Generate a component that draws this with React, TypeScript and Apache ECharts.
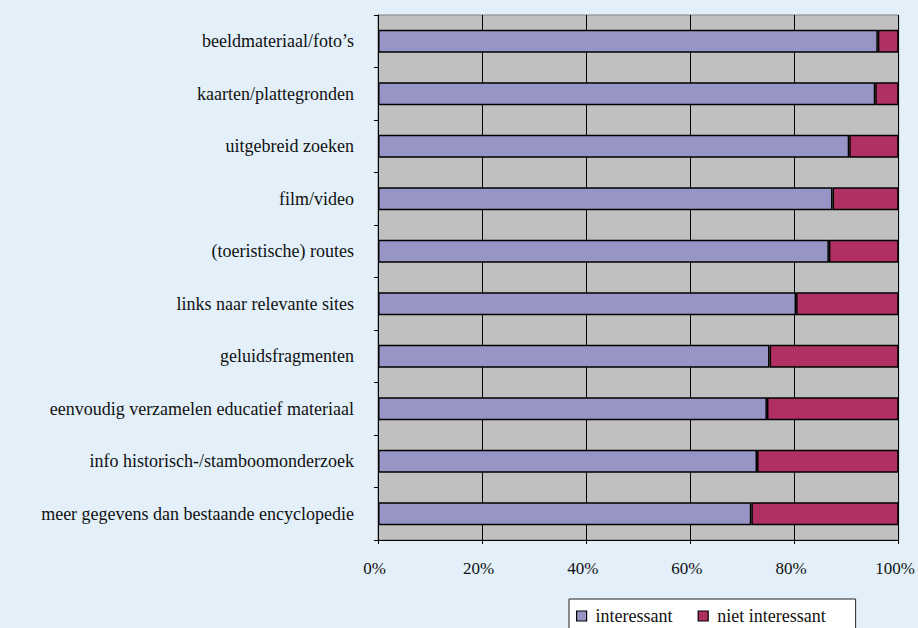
import React, { useEffect, useRef } from "react";
import * as echarts from "echarts";

const categories = [
  "beeldmateriaal/foto’s",
  "kaarten/plattegronden",
  "uitgebreid zoeken",
  "film/video",
  "(toeristische) routes",
  "links naar relevante sites",
  "geluidsfragmenten",
  "eenvoudig verzamelen educatief materiaal",
  "info historisch-/stamboomonderzoek",
  "meer gegevens dan bestaande encyclopedie",
];
const interessant = [96.0, 95.5, 90.5, 87.3, 86.6, 80.3, 75.2, 74.7, 72.8, 71.7];
const nietInteressant = [4.0, 4.5, 9.5, 12.7, 13.4, 19.7, 24.8, 25.3, 27.2, 28.3];
const seriesNames = ["interessant", "niet interessant"];

const FONT = "Liberation Serif";

export default function App() {
  const ref = useRef<HTMLDivElement>(null);
  useEffect(() => {
    if (!ref.current) return;
    const chart = echarts.init(ref.current, undefined, { renderer: "svg" });
    chart.setOption({
      animation: false,
      backgroundColor: "#e3f0f9",
      textStyle: { fontFamily: FONT },
      grid: {
        left: 378,
        right: 17,
        top: 15,
        bottom: 88,
        show: true,
        backgroundColor: "#c0c0c0",
        borderColor: "#808080",
        borderWidth: 1,
      },
      legend: {
        left: 569,
        top: 599,
        icon: "rect",
        itemWidth: 10,
        itemHeight: 10,
        itemGap: 25,
        backgroundColor: "#ffffff",
        borderColor: "#222",
        borderWidth: 1,
        borderRadius: 0,
        padding: [8, 30, 14, 7],
        itemStyle: { borderColor: "#000", borderWidth: 1.2 },
        textStyle: { fontFamily: FONT, fontSize: 18, color: "#111", padding: [0, 0, 0, 4] },
        data: seriesNames,
      },
      xAxis: {
        type: "value",
        min: 0,
        max: 100,
        interval: 20,
        axisLine: { show: true, lineStyle: { color: "#000", width: 1 } },
        axisTick: { show: true, length: 4, lineStyle: { color: "#000" } },
        axisLabel: {
          formatter: "{value}%",
          fontFamily: FONT,
          fontSize: 17,
          color: "#111",
          margin: 20,
          padding: [0, 7, 0, 0],
        },
        splitLine: { show: true, lineStyle: { color: "#000", width: 1 } },
      },
      yAxis: {
        type: "category",
        inverse: true,
        data: categories,
        axisLine: { show: true, lineStyle: { color: "#000", width: 1 } },
        axisTick: { show: true, length: 4, lineStyle: { color: "#000" } },
        axisLabel: {
          fontFamily: FONT,
          fontSize: 18,
          color: "#111",
          margin: 24,
        },
        splitLine: { show: false },
      },
      series: [
        {
          name: seriesNames[0],
          type: "bar",
          stack: "total",
          barWidth: 23,
          data: interessant,
          itemStyle: { color: "#9794c6", borderColor: "#000", borderWidth: 1.5 },
        },
        {
          name: seriesNames[1],
          type: "bar",
          stack: "total",
          barWidth: 23,
          data: nietInteressant,
          itemStyle: { color: "#b03063", borderColor: "#000", borderWidth: 1.5 },
        },
      ],
    });
    return () => chart.dispose();
  }, []);
  return (
    <div
      ref={ref}
      style={{ position: "fixed", left: 0, top: 0, width: 918, height: 628 }}
    />
  );
}
